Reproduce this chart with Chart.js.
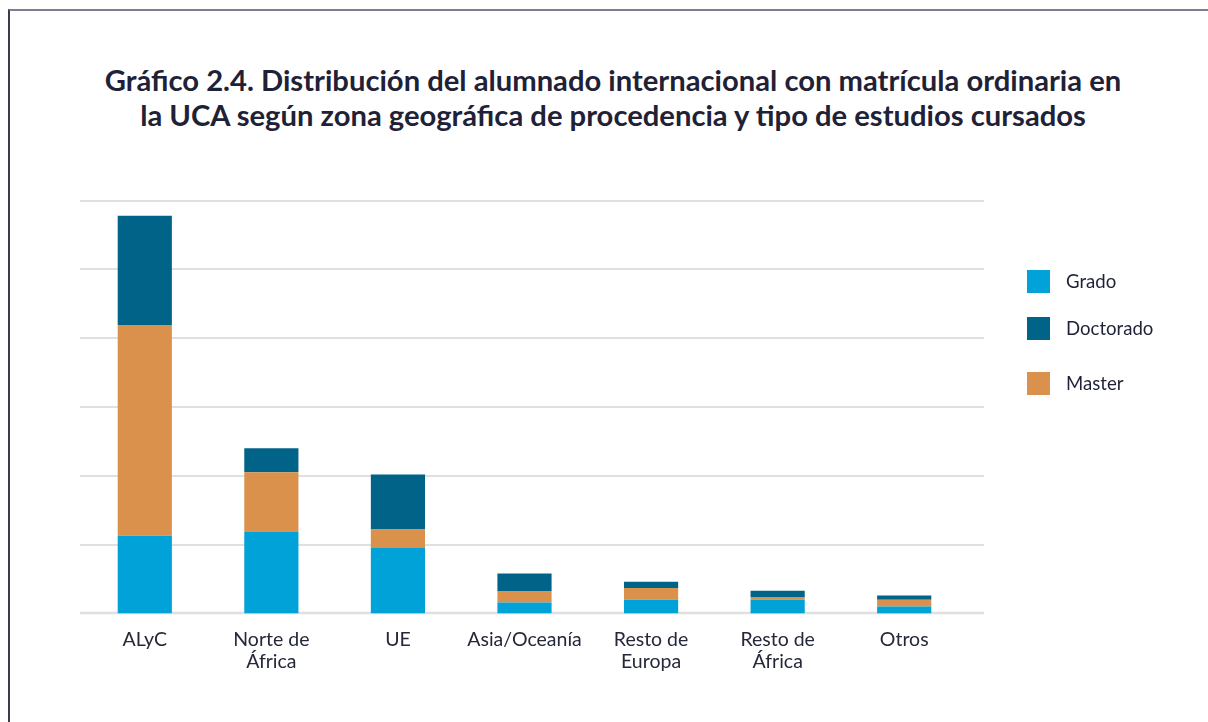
<!DOCTYPE html>
<html>
<head>
<meta charset="utf-8">
<script src="https://cdn.jsdelivr.net/npm/chart.js@4"></script>
<style>
  html, body { margin: 0; padding: 0; background: #ffffff; }
  body { width: 1208px; height: 722px; position: relative; overflow: hidden; font-family: Lato, "Open Sans", sans-serif; }
  #frame { position: absolute; left: 8px; top: 9px; width: 1300px; height: 800px; border-top: 2px solid #7d7f8f; border-left: 2px solid #3a3c48; }
  #title { position: absolute; left: 0; width: 1226px; top: 62px; text-align: center; font-weight: 700; font-size: 29.2px; line-height: 35px; color: #1f2236; }
  #wrap { position: absolute; left: 0; top: 0; width: 1208px; height: 722px; }
  #legend { position: absolute; left: 1027px; top: 270px; font-size: 18.6px; color: #1f2236; }
  .li { position: absolute; left: 0; white-space: nowrap; }
  .sw { position: absolute; left: 0; top: 0; width: 23px; height: 23px; }
  .lt { position: absolute; left: 39px; top: 0px; line-height: 23px; }
</style>
</head>
<body>
<div id="frame"></div>
<div id="title">Gráfico 2.4. Distribución del alumnado internacional con matrícula ordinaria en<br>la UCA según zona geográfica de procedencia y tipo de estudios cursados</div>
<div id="wrap"><canvas id="c" width="1208" height="722"></canvas></div>
<div id="legend"></div>
<script>
const categories = [["ALyC"], ["Norte de", "África"], ["UE"], ["Asia/Oceanía"], ["Resto de", "Europa"], ["Resto de", "África"], ["Otros"]];
const grado =      [113, 119, 95, 16, 20, 20, 10];
const master =     [306,  86, 27, 16, 17,  4, 10];
const doctorado =  [159,  35, 80, 26,  9,  9,  6];
const seriesNames = ["Grado", "Doctorado", "Master"];
const colors = { Grado: "#00a2d8", Doctorado: "#006387", Master: "#d9914b" };

// legend (HTML, order as in reference)
const legendTops = [0, 47, 102];
const legendEl = document.getElementById('legend');
seriesNames.forEach((n, i) => {
  const d = document.createElement('div');
  d.className = 'li';
  d.style.top = legendTops[i] + 'px';
  d.innerHTML = '<div class="sw" style="background:' + colors[n] + '"></div><div class="lt">' + n + '</div>';
  legendEl.appendChild(d);
});

const gridPlugin = {
  id: 'extGrid',
  beforeDatasetsDraw(chart) {
    const y = chart.scales.y, a = chart.chartArea, ctx = chart.ctx;
    ctx.save();
    y.ticks.forEach(t => {
      const py = Math.round(y.getPixelForValue(t.value));
      ctx.beginPath();
      if (t.value === 0) { ctx.strokeStyle = '#e0e0e0'; ctx.lineWidth = 2.5; }
      else { ctx.strokeStyle = '#d6d6d6'; ctx.lineWidth = 1.5; }
      ctx.moveTo(a.left - 1.5, py);
      ctx.lineTo(a.right + 16.5, py);
      ctx.stroke();
    });
    ctx.restore();
  }
};

new Chart(document.getElementById('c'), {
  type: 'bar',
  data: {
    labels: categories,
    datasets: [
      { label: 'Grado', data: grado, backgroundColor: colors.Grado, order: 1 },
      { label: 'Master', data: master, backgroundColor: colors.Master, order: 2 },
      { label: 'Doctorado', data: doctorado, backgroundColor: colors.Doctorado, order: 3 }
    ]
  },
  plugins: [gridPlugin],
  options: {
    responsive: false,
    animation: false,
    devicePixelRatio: 1,
    layout: { padding: { left: 81.5, right: 240.5, top: 200.5, bottom: 34.5 } },
    plugins: { legend: { display: false }, title: { display: false }, tooltip: { enabled: false } },
    datasets: { bar: { categoryPercentage: 1, barPercentage: 0.428 } },
    scales: {
      x: {
        stacked: true,
        grid: { display: false, drawTicks: false },
        border: { display: false },
        ticks: { padding: 15, maxRotation: 0, autoSkip: false, color: '#252839', font: { family: 'Lato', size: 19.5, lineHeight: 1.13 } }
      },
      y: {
        stacked: true,
        min: 0, max: 600,
        ticks: { display: false, stepSize: 100 },
        grid: { display: false, drawTicks: false },
        border: { display: false }
      }
    }
  }
});
</script>
</body>
</html>
